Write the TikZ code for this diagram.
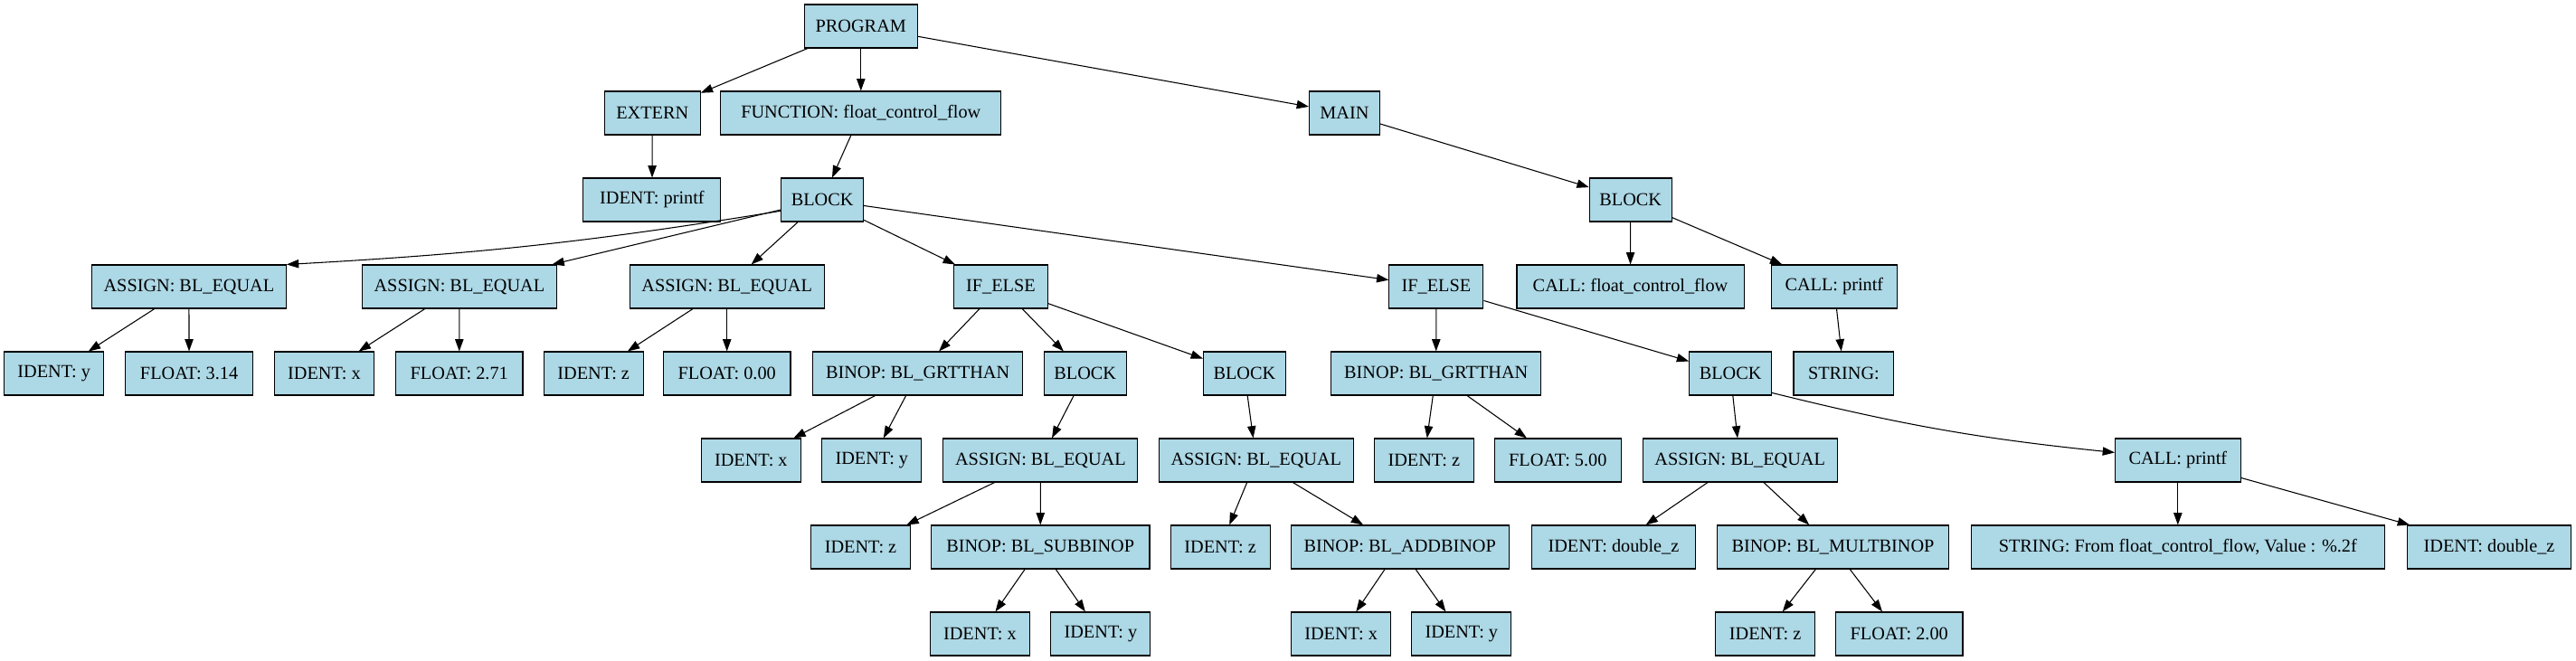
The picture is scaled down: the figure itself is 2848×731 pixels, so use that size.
\documentclass[tikz,border=0pt]{standalone}
\usepackage{fontspec}
\setmainfont{Liberation Serif}
\usetikzlibrary{arrows.meta}
\definecolor{lightblue}{HTML}{ADD8E6}
\tikzset{
  ast/.style={rectangle, draw=black, fill=lightblue, line width=0.8pt, minimum width=#1,
              minimum height=36pt, inner sep=0pt, font=\fontsize{15.2}{17}\selectfont},
  astedge/.style={-{Triangle[length=10pt,width=7pt]}, draw=black, line width=0.8pt}
}

\begin{document}
\begin{tikzpicture}[x=0.75pt, y=-0.75pt]
\useasboundingbox (0,0) rectangle (2848,731);

% top levels
\node[ast=94pt]    (prog)   at (951.8,29)  {PROGRAM};
\node[ast=79.4pt]  (ext)    at (721.3,125) {EXTERN};
\node[ast=232.3pt] (func)   at (951.8,125) {FUNCTION: float\_control\_flow};
\node[ast=58.3pt]  (main)   at (1486.4,125) {MAIN};
\node[ast=114pt]   (extid)  at (720.9,221) {IDENT: printf};
\node[ast=68.1pt]  (fblk)   at (909.1,221) {BLOCK};
\node[ast=68.1pt]  (mblk)   at (1802.7,221) {BLOCK};

% statements
\node[ast=161.2pt] (asgA)   at (208.9,317) {ASSIGN: BL\_EQUAL};
\node[ast=161.2pt] (asgB)   at (507.9,317) {ASSIGN: BL\_EQUAL};
\node[ast=161.2pt] (asgC)   at (803.7,317) {ASSIGN: BL\_EQUAL};
\node[ast=78pt]    (ifA)    at (1106.4,317) {IF\_ELSE};
\node[ast=78pt]    (ifB)    at (1587.9,317) {IF\_ELSE};
\node[ast=188.3pt] (callf)  at (1802.5,317) {CALL: float\_control\_flow};
\node[ast=103.9pt] (callp)  at (2027.8,317) {CALL: printf};

% row 4
\node[ast=82.5pt]  (idY)    at (59.7,413)  {IDENT: y};
\node[ast=105.4pt] (flA)    at (209.1,413) {FLOAT: 3.14};
\node[ast=82.5pt]  (idX)    at (358.5,413) {IDENT: x};
\node[ast=105.4pt] (flB)    at (507.7,413) {FLOAT: 2.71};
\node[ast=82.5pt]  (idZ)    at (656.2,413) {IDENT: z};
\node[ast=105.4pt] (flC)    at (803.7,413) {FLOAT: 0.00};
\node[ast=174pt]   (gtA)    at (1014.6,413) {BINOP: BL\_GRTTHAN};
\node[ast=68.1pt]  (thenA)  at (1199.7,413) {BLOCK};
\node[ast=68.1pt]  (elseA)  at (1375.9,413) {BLOCK};
\node[ast=174pt]   (gtB)    at (1587.7,413) {BINOP: BL\_GRTTHAN};
\node[ast=68.1pt]  (thenB)  at (1913.1,413) {BLOCK};
\node[ast=83.1pt]  (str)    at (2038.4,413) {STRING:};

% row 5
\node[ast=82.5pt]  (gtAx)   at (830.3,509) {IDENT: x};
\node[ast=82.5pt]  (gtAy)   at (963.8,509) {IDENT: y};
\node[ast=161.2pt] (asgD)   at (1150.4,509) {ASSIGN: BL\_EQUAL};
\node[ast=161.2pt] (asgE)   at (1388.8,509) {ASSIGN: BL\_EQUAL};
\node[ast=82.5pt]  (gtBz)   at (1574.3,509) {IDENT: z};
\node[ast=105.4pt] (gtBf)   at (1722.3,509) {FLOAT: 5.00};
\node[ast=161.2pt] (asgF)   at (1923.7,509) {ASSIGN: BL\_EQUAL};
\node[ast=103.9pt] (printB) at (2407.8,509) {CALL: printf};

% row 6
\node[ast=82.5pt]  (idDz)   at (951.5,605) {IDENT: z};
\node[ast=181.2pt] (sub)    at (1150.2,605) {BINOP: BL\_SUBBINOP};
\node[ast=82.5pt]  (idEz)   at (1349.1,605) {IDENT: z};
\node[ast=180.8pt] (add)    at (1547.7,605) {BINOP: BL\_ADDBINOP};
\node[ast=136.2pt] (dbl)    at (1783.9,605) {IDENT: double\_z};
\node[ast=192pt]   (mul)    at (2026.5,605) {BINOP: BL\_MULTBINOP};
\node[ast=343pt]   (strB)   at (2407.8,605) {STRING: From float\_control\_flow, Value : \%.2f};
\node[ast=136.2pt] (dblB)   at (2752,605)  {IDENT: double\_z};

% row 7
\node[ast=82.5pt]  (subx)   at (1083.4,701) {IDENT: x};
\node[ast=82.5pt]  (suby)   at (1216.9,701) {IDENT: y};
\node[ast=82.5pt]  (addx)   at (1482.6,701) {IDENT: x};
\node[ast=82.5pt]  (addy)   at (1615.8,701) {IDENT: y};
\node[ast=82.5pt]  (mulz)   at (1951.6,701) {IDENT: z};
\node[ast=105.4pt] (mulf)   at (2099.7,701) {FLOAT: 2.00};

% edges
\foreach \a/\b in {prog/ext, prog/func, prog/main, ext/extid, func/fblk, main/mblk,
                   fblk/asgB, fblk/asgC, fblk/ifA, fblk/ifB, mblk/callf, mblk/callp,
                   callp/str, asgA/idY, asgA/flA, asgB/idX, asgB/flB, asgC/idZ, asgC/flC,
                   ifA/gtA, ifA/thenA, ifA/elseA, ifB/gtB, ifB/thenB,
                   gtA/gtAx, gtA/gtAy, thenA/asgD, elseA/asgE, gtB/gtBz, gtB/gtBf,
                   thenB/asgF, printB/strB, printB/dblB, asgD/idDz, asgD/sub,
                   asgE/idEz, asgE/add, asgF/dbl, asgF/mul,
                   sub/subx, sub/suby, add/addx, add/addy, mul/mulz, mul/mulf}
  \draw[astedge] (\a) -- (\b);
\draw[astedge] (fblk.195) to[bend left=3] (asgA.north east);
\draw[astedge] (thenB.-25) to[bend right=4] (printB.173);
\end{tikzpicture}
\end{document}
